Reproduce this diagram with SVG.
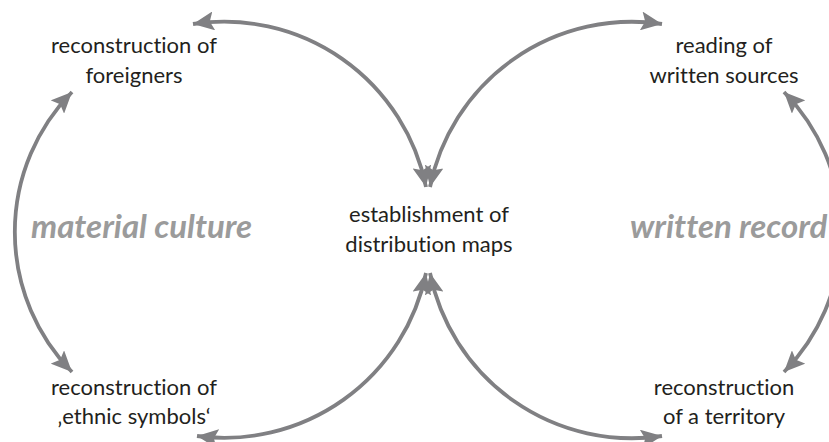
<svg xmlns="http://www.w3.org/2000/svg" width="829" height="442" viewBox="0 0 829 442">
<style>
.lbl{font-family:Lato,"Open Sans","Liberation Sans",sans-serif;font-size:22px;fill:#231f20;text-anchor:middle;font-variant-ligatures:none}
.theme{font-family:Lato,"Open Sans","Liberation Sans",sans-serif;font-size:33px;font-weight:bold;font-style:italic;fill:#9b9b9b;font-variant-ligatures:none}
.arc{fill:none;stroke:#808083;stroke-width:3.8;marker-start:url(#ah);marker-end:url(#ah)}
</style>
<defs>
<marker id="ah" viewBox="0 0 21 19" refX="21" refY="9.5" markerUnits="userSpaceOnUse" markerWidth="21" markerHeight="19" orient="auto-start-reverse">
<path d="M0,0 L21,9.5 L0,19 L4,9.5 z" fill="#808083"/>
</marker>
</defs>
<rect width="829" height="442" fill="#ffffff"/>
<g id="connectors">
<path class="arc" d="M193,24 A206,206 0 0 1 426,187"/>
<path class="arc" d="M430,187 A206,206 0 0 1 662,24"/>
<path class="arc" d="M72,92 A200,200 0 0 0 72,372"/>
<path class="arc" d="M784,92 A200,200 0 0 1 784,372"/>
<path class="arc" d="M197,436 A206,206 0 0 0 426,273"/>
<path class="arc" d="M430,273 A206,206 0 0 0 662,436"/>
</g>
<g id="node-foreigners"><text class="lbl" x="134" y="53">reconstruction of</text><text class="lbl" x="134" y="83">foreigners</text></g>
<g id="node-written-sources"><text class="lbl" x="724" y="53">reading of</text><text class="lbl" x="724" y="83">written sources</text></g>
<g id="node-maps"><text class="lbl" x="429" y="222">establishment of</text><text class="lbl" x="429" y="252">distribution maps</text></g>
<g id="node-ethnic"><text class="lbl" x="134" y="395">reconstruction of</text><text class="lbl" x="134" y="424">‚ethnic symbols‘</text></g>
<g id="node-territory"><text class="lbl" x="724" y="395">reconstruction</text><text class="lbl" x="724" y="424">of a territory</text></g>
<g id="theme-material"><text class="theme" x="31" y="238">material culture</text></g>
<g id="theme-written"><text class="theme" x="630" y="238">written record</text></g>
</svg>
